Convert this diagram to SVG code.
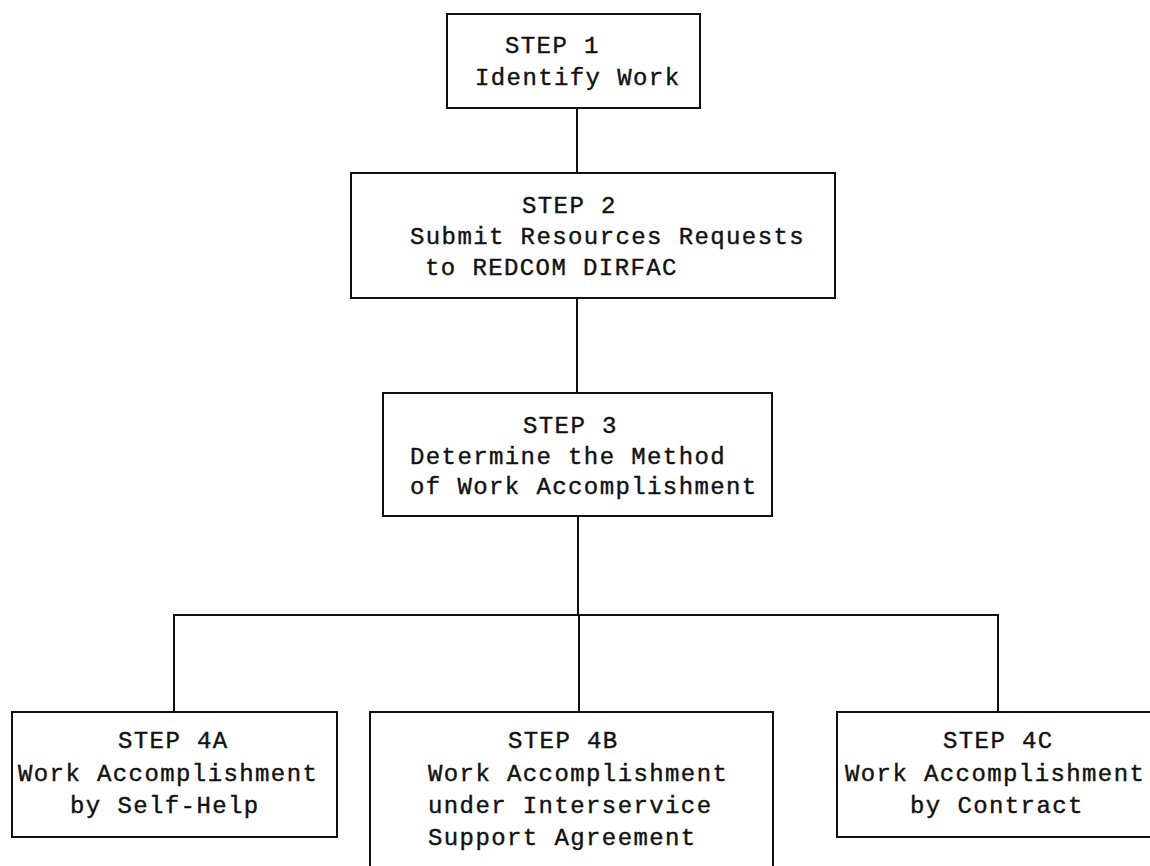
<svg xmlns="http://www.w3.org/2000/svg" width="1150" height="866" viewBox="0 0 1150 866">
<style>
.box{fill:none;stroke:#111;stroke-width:2}
.conn{fill:none;stroke:#111;stroke-width:2}
text{font-family:"Liberation Mono","DejaVu Sans Mono",monospace;font-size:24px;letter-spacing:1.4px;fill:#111;stroke:#111;stroke-width:0.4}
</style>
<rect width="1150" height="866" fill="#fff"/>
<g id="connectors">
<line class="conn" x1="577" y1="108" x2="577" y2="173"/>
<line class="conn" x1="577" y1="298" x2="577" y2="393"/>
<line class="conn" x1="578" y1="516" x2="578" y2="615"/>
<polyline class="conn" points="174,712 174,615 998,615 998,712"/>
<line class="conn" x1="579" y1="615" x2="579" y2="712"/>
</g>
<g id="step1">
<rect class="box" x="447" y="14" width="253" height="94"/>
<text x="505" y="53">STEP 1</text>
<text x="475" y="85">Identify Work</text>
</g>
<g id="step2">
<rect class="box" x="351" y="173" width="484" height="125"/>
<text x="522" y="213">STEP 2</text>
<text x="410" y="244">Submit Resources Requests</text>
<text x="425" y="275">to REDCOM DIRFAC</text>
</g>
<g id="step3">
<rect class="box" x="383" y="393" width="389" height="123"/>
<text x="523" y="433">STEP 3</text>
<text x="410" y="464">Determine the Method</text>
<text x="410" y="494">of Work Accomplishment</text>
</g>
<g id="step4a">
<rect class="box" x="12" y="712" width="325" height="125"/>
<text x="118" y="748">STEP 4A</text>
<text x="18" y="781">Work Accomplishment</text>
<text x="70" y="813">by Self-Help</text>
</g>
<g id="step4b">
<rect class="box" x="370" y="712" width="403" height="170"/>
<text x="508" y="748">STEP 4B</text>
<text x="428" y="781">Work Accomplishment</text>
<text x="428" y="813">under Interservice</text>
<text x="428" y="845">Support Agreement</text>
</g>
<g id="step4c">
<rect class="box" x="837" y="712" width="330" height="125"/>
<text x="943" y="748">STEP 4C</text>
<text x="845" y="781">Work Accomplishment</text>
<text x="910" y="813">by Contract</text>
</g>
</svg>
